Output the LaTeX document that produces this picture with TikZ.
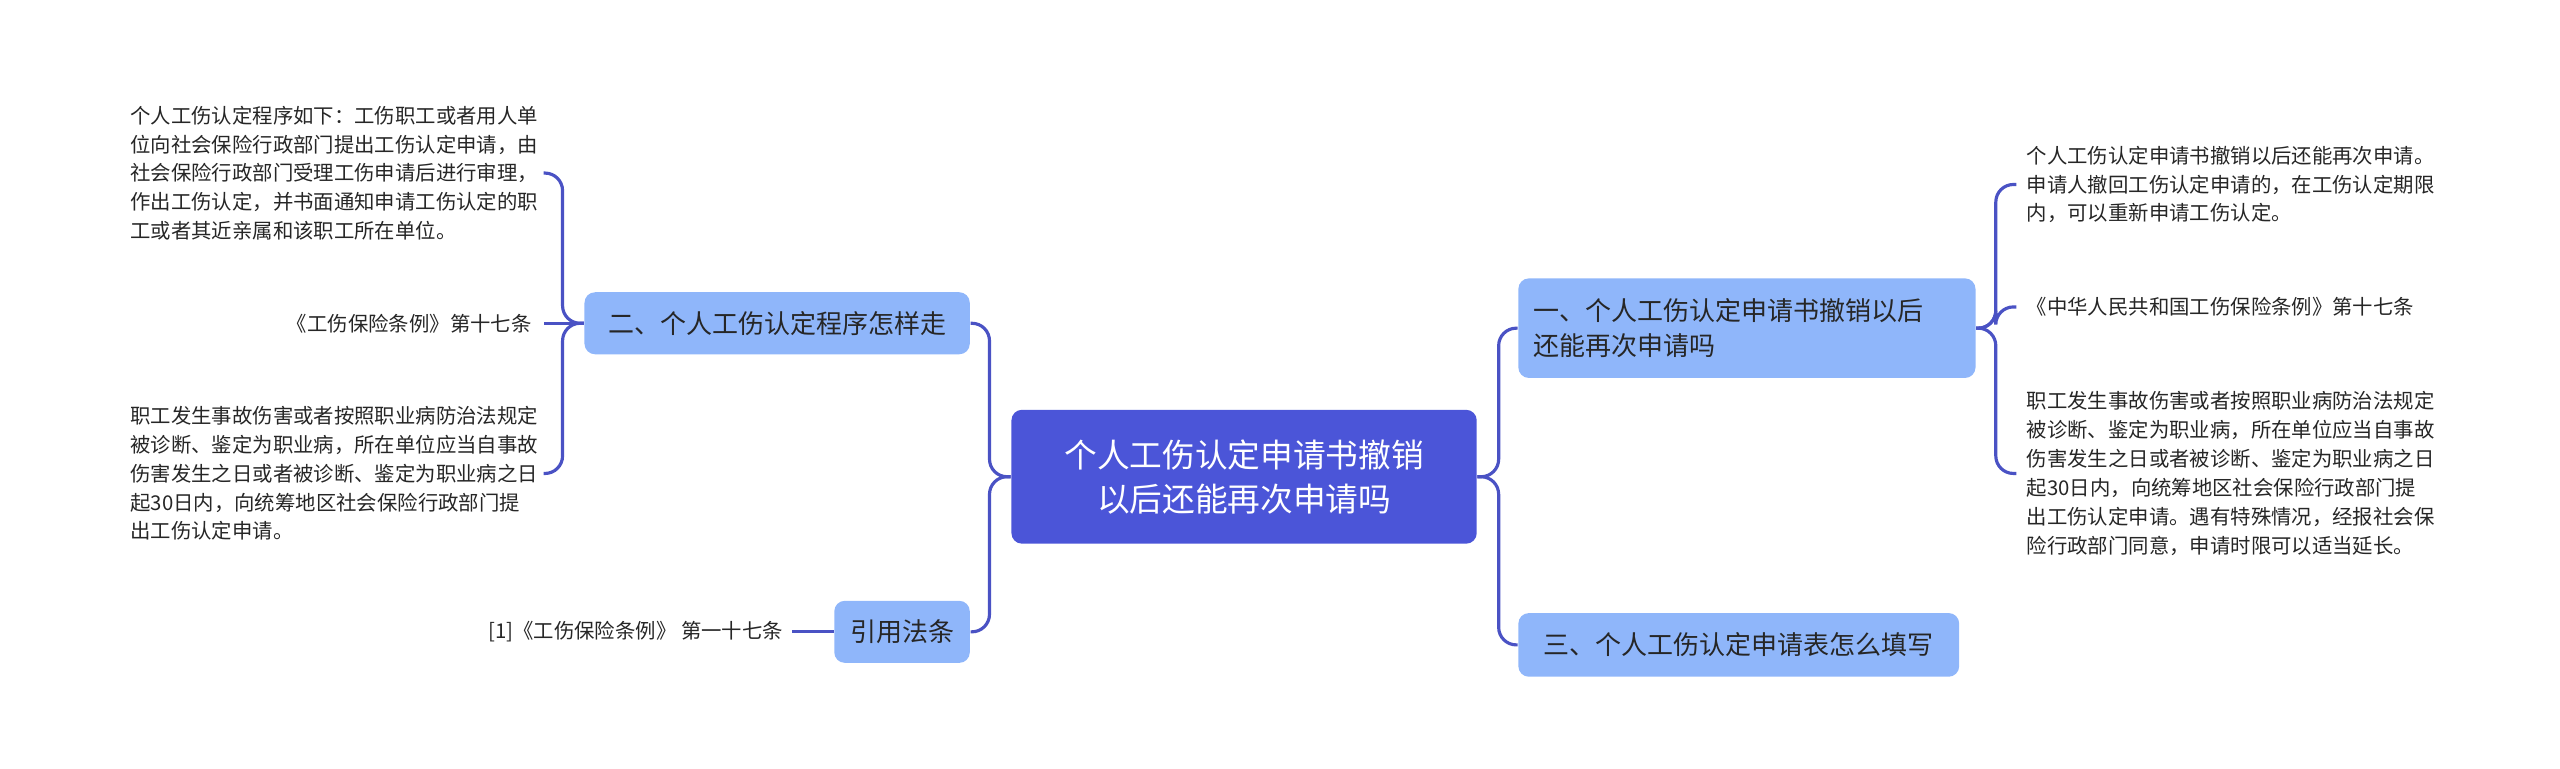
\documentclass[tikz,border=0pt]{standalone}
\usepackage{fontspec}
\setmainfont{Noto Sans CJK SC}
\tikzset{
  topic/.style={fill=blue!50!violet!70!black, fill=mainblue, text=white, rounded corners=3pt, align=center, font=\fontsize{9.3}{12.5}\selectfont, inner sep=0pt},
  sub/.style={fill=subblue, text=black!85, rounded corners=3pt, align=left, font=\fontsize{7.4}{10}\selectfont, inner sep=0pt},
  leaf/.style={text=black!85, align=left, font=\fontsize{5.8}{8.2}\selectfont, inner sep=0pt},
  link/.style={draw=linkblue, line width=0.9pt, rounded corners=5pt}
}
\definecolor{mainblue}{HTML}{4B55D8}
\definecolor{subblue}{HTML}{8FB6FA}
\definecolor{linkblue}{HTML}{4A52C4}
\begin{document}
\begin{tikzpicture}[x=0.01633cm,y=-0.01633cm]
  \useasboundingbox (0,0) rectangle (1568,471);
  % main topic
  \node[topic, minimum width=285*0.01633cm, minimum height=82*0.01633cm] (root) at (762,292)
    {个人工伤认定申请书撤销\\以后还能再次申请吗};
  % right side
  \node[sub, minimum width=280*0.01633cm, minimum height=61*0.01633cm, text width=262*0.01633cm] (r1) at (1070,201)
    {一、个人工伤认定申请书撤销以后\\还能再次申请吗};
  \node[sub, minimum width=270*0.01633cm, minimum height=39*0.01633cm] (r3) at (1065,395)
    {三、个人工伤认定申请表怎么填写};
  % left side
  \node[sub, minimum width=236*0.01633cm, minimum height=38*0.01633cm] (l2) at (476,198)
    {二、个人工伤认定程序怎样走};
  \node[sub, minimum width=83*0.01633cm, minimum height=38*0.01633cm] (l4) at (552.5,387)
    {引用法条};
  % leaves of r1
  \node[leaf, anchor=west] (a1) at (1241,113)
    {个人工伤认定申请书撤销以后还能再次申请。\\申请人撤回工伤认定申请的，在工伤认定期限\\内，可以重新申请工伤认定。};
  \node[leaf, anchor=west] (a2) at (1241,188) {《中华人民共和国工伤保险条例》第十七条};
  \node[leaf, anchor=west] (a3) at (1241,290)
    {职工发生事故伤害或者按照职业病防治法规定\\被诊断、鉴定为职业病，所在单位应当自事故\\伤害发生之日或者被诊断、鉴定为职业病之日\\起30日内，向统筹地区社会保险行政部门提\\出工伤认定申请。遇有特殊情况，经报社会保\\险行政部门同意，申请时限可以适当延长。};
  % leaves of l2
  \node[leaf, anchor=east] (b1) at (330,106)
    {个人工伤认定程序如下：工伤职工或者用人单\\位向社会保险行政部门提出工伤认定申请，由\\社会保险行政部门受理工伤申请后进行审理，\\作出工伤认定，并书面通知申请工伤认定的职\\工或者其近亲属和该职工所在单位。};
  \node[leaf, anchor=east] (b2) at (326,198) {《工伤保险条例》第十七条};
  \node[leaf, anchor=east] (b3) at (330,290)
    {职工发生事故伤害或者按照职业病防治法规定\\被诊断、鉴定为职业病，所在单位应当自事故\\伤害发生之日或者被诊断、鉴定为职业病之日\\起30日内，向统筹地区社会保险行政部门提\\出工伤认定申请。};
  % leaf of l4
  \node[leaf, anchor=east] (c1) at (480,387) {[1]《工伤保险条例》 第一十七条};
  % connectors
  \draw[link] (root.east) -- ++(13,0) |- (r1.west);
  \draw[link] (root.east) -- ++(13,0) |- (r3.west);
  \draw[link] (root.west) -- ++(-13,0) |- (l2.east);
  \draw[link] (root.west) -- ++(-13,0) |- (l4.east);
  \foreach \t in {a1,a2,a3}
    \draw[link] (r1.east) -- ++(12,0) |- ([xshift=-6*0.01633cm]\t.west);
  \foreach \t in {b1,b3}
    \draw[link] (l2.west) -- ++(-13,0) |- ([xshift=3*0.01633cm]\t.east);
  \draw[link] (l2.west) -- ([xshift=7*0.01633cm]b2.east);
  \draw[link] (l4.west) -- ([xshift=5*0.01633cm]c1.east);
\end{tikzpicture}
\end{document}
